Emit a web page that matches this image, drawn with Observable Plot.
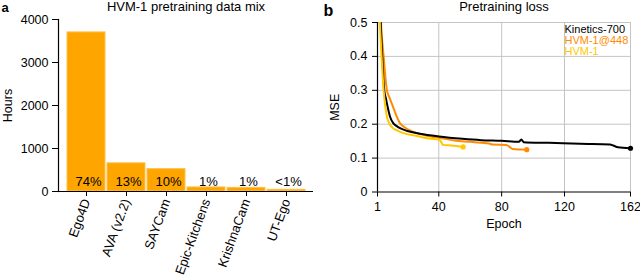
<!DOCTYPE html>
<html><head><meta charset="utf-8">
<script src="https://cdn.jsdelivr.net/npm/d3@7"></script>
<script src="https://cdn.jsdelivr.net/npm/@observablehq/plot@0.6"></script>
<style>
body{margin:0;background:#fff;}
#wrap{position:relative;width:640px;height:279px;display:flex;overflow:hidden;}
#wrap svg{display:block;}
</style></head><body><div id="wrap"></div>
<script>
// ---- Panel a: pretraining data mix ----
const datasets = ["Ego4D", "AVA (v2.2)", "SAYCam", "Epic-Kitchens", "KrishnaCam", "UT-Ego"];
const hours = [3700, 655, 520, 95, 85, 40];
const shares = ["74%", "13%", "10%", "1%", "1%", "<1%"];
const hourTicks = [0, 1000, 2000, 3000, 4000];

// ---- Panel b: pretraining loss ----
const seriesNames = ["Kinetics-700", "HVM-1@448", "HVM-1"];
const seriesColors = ["#000000", "#ff8c00", "#ffc800"];
const epochTicks = [1, 40, 80, 120, 162];
const mseTicks = [0, 0.1, 0.2, 0.3, 0.4, 0.5];

const k700Epoch = [1, 2, 3, 4, 5.3, 6.4, 7.5, 9, 11, 13, 15, 20, 28, 40, 55, 67, 80, 91, 92.5, 94, 110, 130, 149, 151, 154, 162];
const k700Mse   = [0.95, 0.62, 0.5, 0.4, 0.3, 0.275, 0.25, 0.222, 0.203, 0.195, 0.189, 0.18, 0.172, 0.164, 0.157, 0.153, 0.151, 0.148, 0.155, 0.147, 0.145, 0.142, 0.140, 0.137, 0.132, 0.129];

const hvm448Epoch = [1, 2, 3.2, 4.9, 7, 8.5, 10.6, 13, 15, 18, 22, 28, 33, 40, 50, 60, 67, 72, 74, 83, 85, 87, 96];
const hvm448Mse   = [1.0, 0.65, 0.5, 0.4, 0.3, 0.28, 0.255, 0.225, 0.205, 0.192, 0.181, 0.171, 0.165, 0.16, 0.152, 0.148, 0.145, 0.143, 0.14, 0.139, 0.133, 0.127, 0.125];

const hvm1Epoch = [1, 2, 2.5, 3.6, 4.9, 6, 7.2, 8.5, 10.5, 13.8, 18, 24, 30, 35, 40, 41.5, 42.5, 48, 55.5];
const hvm1Mse   = [0.85, 0.55, 0.5, 0.4, 0.3, 0.25, 0.218, 0.202, 0.19, 0.181, 0.173, 0.167, 0.161, 0.157, 0.154, 0.148, 0.139, 0.137, 0.133];

const FONT = '"Liberation Sans", Arial, Helvetica, sans-serif';

const barRows = datasets.map((d, i) => ({name: d, hours: hours[i], share: shares[i]}));

const left = Plot.plot({
  width: 320, height: 279,
  marginLeft: 58, marginRight: 7, marginTop: 19, marginBottom: 88,
  style: {fontFamily: FONT, fontSize: "12.5px", color: "#000", background: "#fff", overflow: "visible"},
  x: {domain: datasets, paddingInner: 0.05, paddingOuter: 0.2125},
  y: {domain: [0, 4000]},
  marks: [
    Plot.barY(barRows, {x: "name", y: "hours", fill: "#ffa500", stroke: "#ffc04d", strokeWidth: 1}),
    Plot.text(barRows, {x: "name", y: () => 0, text: "share", dx: 2, dy: -10, fontSize: 13}),
    Plot.ruleY([0], {stroke: "#000", strokeWidth: 1.2}),
    Plot.frame({anchor: "left", stroke: "#000", strokeWidth: 1.2}),
    Plot.axisY({ticks: hourTicks, tickFormat: d => String(d), tickSize: 6, tickPadding: 4, label: "Hours", labelAnchor: "center", labelOffset: 55, labelArrow: "none"}),
    Plot.axisX({tickSize: 5, tickPadding: 3, tickRotate: -70, label: null, fontSize: 13}),
    Plot.text(["HVM-1 pretraining data mix"], {frameAnchor: "top", dy: -8.5, lineAnchor: "bottom", fontSize: 13}),
    Plot.text(["a"], {frameAnchor: "top-left", dx: -57, dy: -7.5, lineAnchor: "bottom", textAnchor: "start", fontSize: 13, fontWeight: "bold"})
  ]
});

const lossRows = [];
[[k700Epoch, k700Mse], [hvm448Epoch, hvm448Mse], [hvm1Epoch, hvm1Mse]].forEach(([ep, m], s) => {
  ep.forEach((e, i) => lossRows.push({series: seriesNames[s], epoch: e, mse: m[i]}));
});
const drawOrder = ["HVM-1@448", "Kinetics-700", "HVM-1"];
const lastRows = drawOrder.map(n => {
  const r = lossRows.filter(d => d.series === n);
  return r[r.length - 1];
});

const lineMarks = drawOrder.map(n =>
  Plot.line(lossRows.filter(d => d.series === n), {x: "epoch", y: "mse", stroke: "series", strokeWidth: 2, clip: true, curve: "monotone-x"})
);
const legendMarks = seriesNames.map((n, i) =>
  Plot.text([n], {frameAnchor: "top-left", dx: 187, dy: 11 * (i + 1) - 0.5, lineAnchor: "bottom", textAnchor: "start", fill: seriesColors[i], fontSize: 11})
);

const right = Plot.plot({
  width: 320, height: 279,
  marginLeft: 57, marginRight: 10, marginTop: 22, marginBottom: 87.5,
  style: {fontFamily: FONT, fontSize: "12.5px", color: "#000", background: "#fff", overflow: "visible"},
  x: {domain: [1, 162]},
  y: {domain: [0, 0.5]},
  color: {domain: seriesNames, range: seriesColors},
  marks: [
    Plot.gridX(epochTicks.filter(t => t > 1), {stroke: "#c4c4c4", strokeOpacity: 1, strokeWidth: 1}),
    Plot.gridY(mseTicks.filter(t => t > 0), {stroke: "#c4c4c4", strokeOpacity: 1, strokeWidth: 1}),
    ...lineMarks,
    Plot.dot(lastRows, {x: "epoch", y: "mse", fill: "series", r: 2.6}),
    Plot.ruleY([0], {stroke: "#000", strokeWidth: 1.2}),
    Plot.ruleX([1], {stroke: "#000", strokeWidth: 1.2}),
    Plot.axisX({ticks: epochTicks, tickSize: 5, tickPadding: 5, label: "Epoch", labelAnchor: "center", labelOffset: 36, labelArrow: "none"}),
    Plot.axisY({ticks: mseTicks, tickFormat: d => String(d), tickSize: 5, tickPadding: 5, label: "MSE", labelAnchor: "center", labelOffset: 47, labelArrow: "none"}),
    ...legendMarks,
    Plot.text(["Pretraining loss"], {frameAnchor: "top", dy: -11.5, lineAnchor: "bottom", fontSize: 13}),
    Plot.text(["b"], {frameAnchor: "top-left", dx: -54, dy: -7, lineAnchor: "bottom", textAnchor: "start", fontSize: 16, fontWeight: "bold"})
  ]
});

const wrap = document.getElementById("wrap");
wrap.appendChild(left);
wrap.appendChild(right);
</script>
</body></html>
